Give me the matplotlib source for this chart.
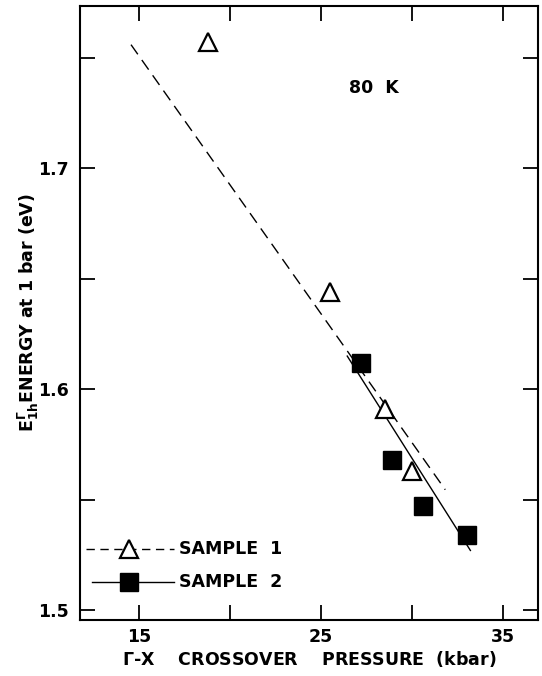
import numpy as np
import matplotlib
matplotlib.use("Agg")
import matplotlib.pyplot as plt
from matplotlib.ticker import MultipleLocator

# data
s1_pressure = [18.8, 25.5, 28.5, 30.0]
s1_energy = [1.757, 1.644, 1.591, 1.563]
s2_pressure = [27.2, 28.9, 30.6, 33.0]
s2_energy = [1.612, 1.568, 1.547, 1.534]

# fitted lines (end points)
fit1_x = [14.56, 31.81]
fit1_y = [1.756, 1.5545]
fit2_x = [26.43, 33.19]
fit2_y = [1.615, 1.527]

plt.rcParams.update({'font.family': ['DejaVu Sans'],
                     'font.weight': 'bold',
                     'axes.labelweight': 'bold',
                     'mathtext.default': 'regular',
                     'font.size': 12.5})

fig = plt.figure(figsize=(5.42, 6.76), dpi=100)
ax = fig.add_axes([0.1476, 0.0828, 0.845, 0.9083])

ax.plot(fit1_x, fit1_y, color='black', lw=1.0, ls=(0, (8.5, 5)))
ax.plot(fit2_x, fit2_y, color='black', lw=1.0)
ax.plot(s1_pressure, s1_energy, ls='none', marker='^', ms=13,
        mfc='white', mec='black', mew=1.6)
ax.plot(s2_pressure, s2_energy, ls='none', marker='s', ms=12.5,
        mfc='black', mec='black')

# hand-drawn style legend
ax.plot([12.1, 16.9], [1.5275, 1.5275], color='black', lw=1.0, ls=(0, (6, 4)))
ax.plot([14.45], [1.5275], marker='^', ms=13, mfc='white', mec='black', mew=1.6)
ax.text(17.2, 1.5275, "SAMPLE  1", va='center', ha='left')
ax.plot([12.4, 16.9], [1.5125, 1.5125], color='black', lw=1.0)
ax.plot([14.45], [1.5125], marker='s', ms=12.5, mfc='black', mec='black')
ax.text(17.2, 1.5125, "SAMPLE  2", va='center', ha='left')

ax.text(27.9, 1.7365, "80  K", ha='center', va='center')

ax.set_xlim(11.76, 36.9)
ax.set_ylim(1.4955, 1.7735)
ax.set_xticks([15, 25, 35])
ax.xaxis.set_minor_locator(MultipleLocator(5))
ax.set_yticks([1.5, 1.6, 1.7])
ax.set_yticklabels(["1.5", "1.6", "1.7"])
ax.yaxis.set_minor_locator(MultipleLocator(0.05))
ax.tick_params(which='both', direction='in', top=True, right=True,
               width=1.3, length=11, labelsize=12.5)
ax.tick_params(axis='x', pad=6)
ax.tick_params(axis='y', pad=8)
for sp in ax.spines.values():
    sp.set_linewidth(1.5)

ax.set_xlabel(r"$\Gamma$-X    CROSSOVER    PRESSURE  (kbar)", labelpad=2)
ax.set_ylabel(r"E$^{\Gamma}_{1h}$ENERGY at 1 bar (eV)", va='center')
ax.yaxis.set_label_coords(-0.113, 0.5)

fig.savefig("out.png", dpi=100)
